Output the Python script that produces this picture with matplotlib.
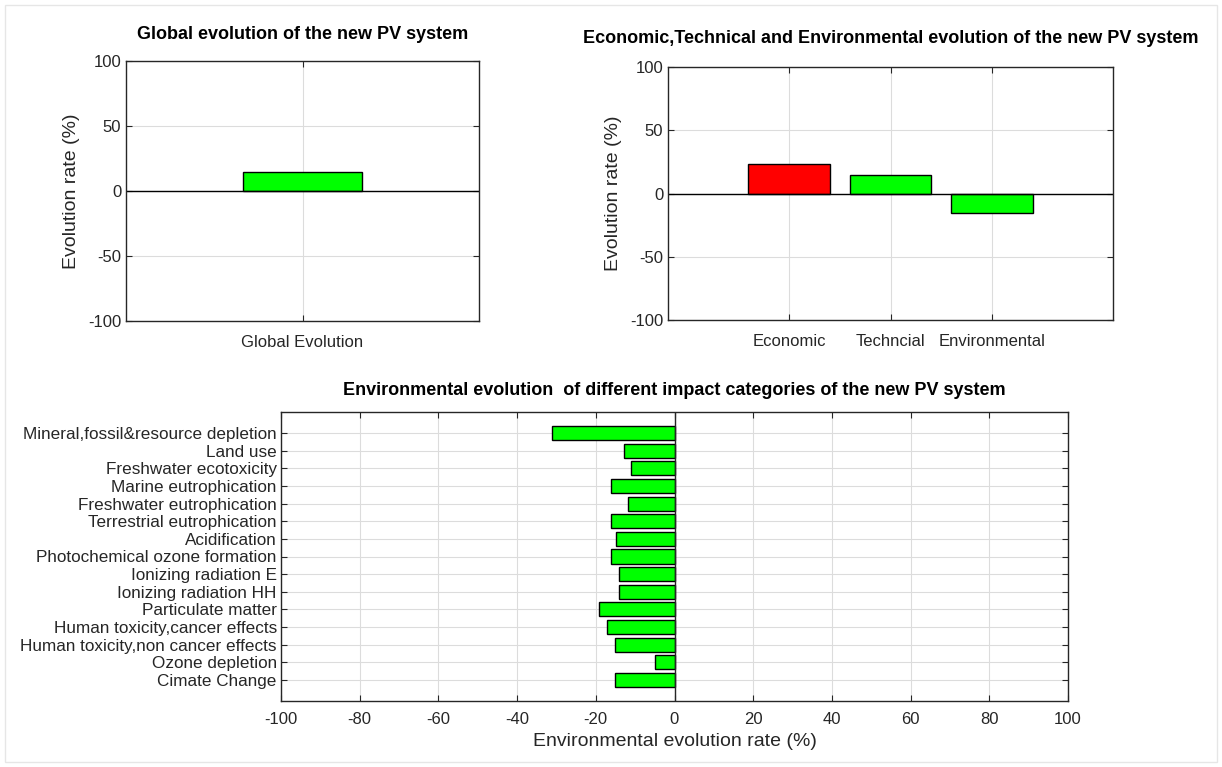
import numpy as np
import matplotlib
matplotlib.use("Agg")
import matplotlib.pyplot as plt
from matplotlib.patches import Rectangle

plt.rcParams['font.family'] = ['Liberation Sans', 'DejaVu Sans']
plt.rcParams['axes.unicode_minus'] = False

# data
global_labels = ['Global Evolution']
global_vals = [14.6]

pillar_labels = ['Economic', 'Techncial', 'Environmental']
pillar_vals = [23.6, 14.8, -15.3]
pillar_colors = ['#ff0000', '#00ff00', '#00ff00']

# bottom to top, as barh draws them
impact_labels = ['Cimate Change', 'Ozone depletion',
                 'Human toxicity,non cancer effects', 'Human toxicity,cancer effects',
                 'Particulate matter', 'Ionizing radiation HH', 'Ionizing radiation E',
                 'Photochemical ozone formation', 'Acidification',
                 'Terrestrial eutrophication', 'Freshwater eutrophication',
                 'Marine eutrophication', 'Freshwater ecotoxicity', 'Land use',
                 'Mineral,fossil&resource depletion']
impact_vals = [-15, -5, -15, -17.2, -19.1, -14, -14, -16.2, -14.9, -16.2,
               -11.9, -16.2, -11, -12.8, -31.2]

W, H = 1222, 767
fig = plt.figure(figsize=(W / 100, H / 100), dpi=100)

def box(x0, y0, x1, y1):
    return [x0 / W, 1 - y1 / H, (x1 - x0) / W, (y1 - y0) / H]

TXT = '#262626'
GRID = '#dcdcdc'

def style(ax):
    ax.set_axisbelow(True)
    ax.grid(True, color=GRID, linewidth=0.8)
    ax.tick_params(direction='in', top=True, right=True, length=4,
                   labelsize=12, colors=TXT, width=0.8)
    for s in ax.spines.values():
        s.set_color(TXT)
        s.set_linewidth(1.0)

# top-left
ax1 = fig.add_axes(box(126, 61, 479, 321))
x1 = np.arange(1, len(global_vals) + 1)
ax1.bar(x1, global_vals, width=0.8, color='#00ff00', edgecolor='black', linewidth=1.0)
ax1.axhline(0, color='black', linewidth=1.0)
ax1.set_xlim(1 - 1.19, 1 + 1.19)
ax1.set_ylim(-100, 100)
ax1.set_yticks([-100, -50, 0, 50, 100])
ax1.set_xticks(x1)
ax1.set_xticklabels(global_labels)
style(ax1)
ax1.tick_params(axis='x', pad=10)
ax1.set_ylabel('Evolution rate (%)', fontsize=14, color=TXT, labelpad=6)
ax1.set_title('Global evolution of the new PV system', fontsize=13,
              fontweight='bold', pad=16)

# top-right
ax2 = fig.add_axes(box(668, 67, 1113, 320))
x2 = np.arange(1, len(pillar_vals) + 1)
ax2.bar(x2, pillar_vals, width=0.8, color=pillar_colors, edgecolor='black', linewidth=1.0)
ax2.axhline(0, color='black', linewidth=1.0)
ax2.set_xlim(1 - 1.19, 3 + 1.19)
ax2.set_ylim(-100, 100)
ax2.set_yticks([-100, -50, 0, 50, 100])
ax2.set_xticks(x2)
ax2.set_xticklabels(pillar_labels)
style(ax2)
ax2.tick_params(axis='x', pad=10)
ax2.set_ylabel('Evolution rate (%)', fontsize=14, color=TXT, labelpad=6)
ax2.set_title('Economic,Technical and Environmental evolution of the new PV system',
              fontsize=13, fontweight='bold', pad=17)

# bottom
ax3 = fig.add_axes(box(281, 412, 1068, 701))
y3 = np.arange(1, len(impact_vals) + 1)
ax3.barh(y3, impact_vals, height=0.8, color='#00ff00', edgecolor='black', linewidth=1.0)
ax3.axvline(0, color=TXT, linewidth=1.0)
ax3.set_xlim(-100, 100)
ax3.set_xticks(np.arange(-100, 101, 20))
ax3.set_ylim(1 - 1.19, len(impact_vals) + 1.19)
ax3.set_yticks(y3)
ax3.set_yticklabels(impact_labels)
style(ax3)
ax3.tick_params(axis='x', pad=8)
ax3.tick_params(axis='y', pad=3, labelsize=12.3)
ax3.set_xlabel('Environmental evolution rate (%)', fontsize=14, color=TXT, labelpad=4)
ax3.set_title('Environmental evolution  of different impact categories of the new PV system',
              fontsize=13, fontweight='bold', pad=12)

fig.patches.append(Rectangle((5 / W, 5 / H), 1 - 10 / W, 1 - 10 / H,
                             transform=fig.transFigure, fill=False,
                             edgecolor='#e6e6e6', linewidth=1.0))

fig.savefig('out.png', dpi=100, facecolor='white')
